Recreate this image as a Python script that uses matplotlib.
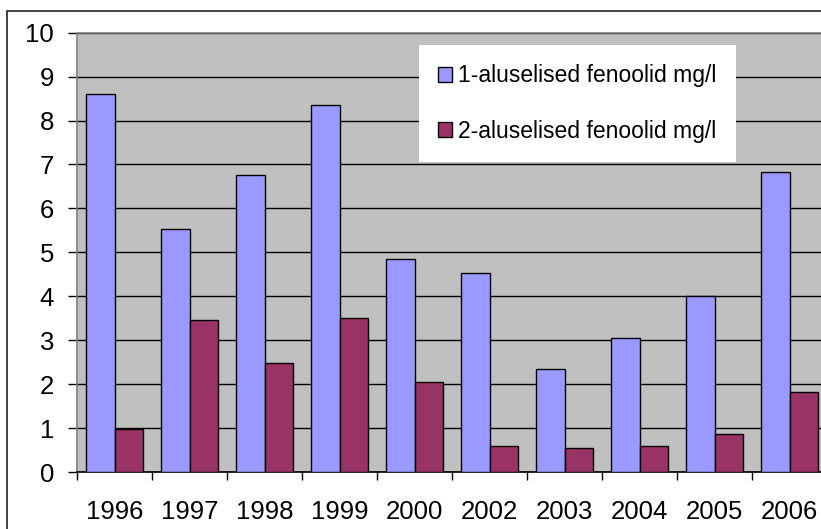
import matplotlib
matplotlib.use("Agg")
import matplotlib.pyplot as plt
import numpy as np
from matplotlib.patches import Rectangle

years = ["1996", "1997", "1998", "1999", "2000", "2002", "2003", "2004", "2005", "2006"]
series1 = [8.60, 5.53, 6.76, 8.36, 4.85, 4.54, 2.35, 3.04, 4.01, 6.82]
series2 = [0.97, 3.45, 2.48, 3.51, 2.04, 0.60, 0.54, 0.60, 0.86, 1.82]
label1 = "1-aluselised fenoolid mg/l"
label2 = "2-aluselised fenoolid mg/l"

plt.rcParams['font.family'] = ['Liberation Sans', 'DejaVu Sans']

W, H = 821, 529
fig = plt.figure(figsize=(W / 100, H / 100), dpi=100)
fig.patch.set_facecolor('white')

ax_left, ax_right = 77 / W, 827 / W
ax_bottom, ax_top = 1 - 472 / H, 1 - 32.7 / H
ax = fig.add_axes([ax_left, ax_bottom, ax_right - ax_left, ax_top - ax_bottom])
ax.set_facecolor('#C0C0C0')

x = np.arange(len(years))
bw = 0.38
ax.bar(x - bw / 2, series1, bw, color='#9999FF', edgecolor='black', linewidth=1, label=label1, zorder=3)
ax.bar(x + bw / 2, series2, bw, color='#993366', edgecolor='black', linewidth=1, label=label2, zorder=3)

ax.set_xlim(-0.5, len(years) - 0.5)
ax.set_ylim(0, 10)
ax.set_yticks(range(0, 11))
ax.yaxis.grid(True, color='black', linewidth=1, zorder=0)
ax.set_axisbelow(True)

ax.set_xticks(x)
ax.set_xticklabels(years, fontsize=18.5)
ax.set_xticks(np.arange(-0.5, len(years) + 0.5, 1), minor=True)
ax.tick_params(axis='x', which='major', length=0, pad=20)
ax.tick_params(axis='x', which='minor', length=6, width=1, color='black', direction='out')
ax.tick_params(axis='y', which='major', length=6.5, width=1, color='black', labelsize=18.5, pad=10)

ax.spines['top'].set_color('#808080')
ax.spines['left'].set_color('#808080')
ax.spines['bottom'].set_color('black')
ax.spines['right'].set_visible(False)
for s in ax.spines.values():
    s.set_linewidth(1.2)

leg = ax.legend(loc='upper left', bbox_to_anchor=(0.456, 0.972), borderaxespad=0,
                fontsize=16.5, frameon=True, fancybox=False, framealpha=1,
                handlelength=0.6, handleheight=0.6, handletextpad=0.25,
                labelspacing=1.4, borderpad=0.85)
leg.get_frame().set_facecolor('white')
leg.get_frame().set_edgecolor('none')
leg.set_zorder(5)

border = Rectangle((7 / W, -0.1), 2, 1 - 11 / H + 0.1, transform=fig.transFigure,
                   fill=False, edgecolor='#222222', linewidth=1.2, clip_on=False)
fig.patches.append(border)

fig.savefig('out.png', dpi=100)
